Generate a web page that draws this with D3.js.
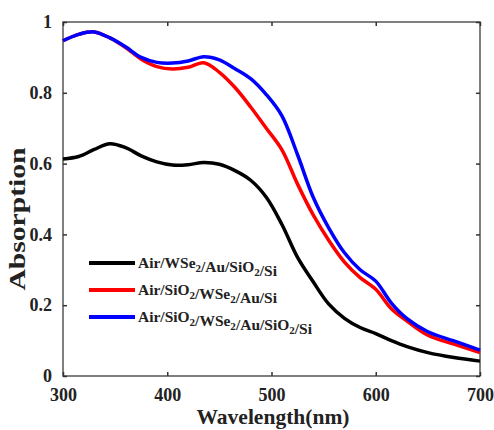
<!DOCTYPE html>
<html>
<head>
<meta charset="utf-8">
<script src="https://cdn.jsdelivr.net/npm/d3@7"></script>
<style>
  body { margin: 0; background: #fff; }
  text { font-family: "Liberation Serif", "Times New Roman", serif; font-weight: bold; fill: #222; }
</style>
</head>
<body>
<div id="chart"></div>
<script>
// wavelength grid (nm) shared by all three curves
var wavelengths = [300, 315, 330, 345, 360, 375, 390, 405, 420, 435, 450, 465, 480, 495, 510, 525, 540, 555, 570, 585, 600, 615, 630, 650, 675, 700];
var blackAbs = [0.613, 0.620, 0.640, 0.656, 0.645, 0.622, 0.605, 0.596, 0.597, 0.603, 0.598, 0.580, 0.553, 0.505, 0.428, 0.335, 0.266, 0.203, 0.163, 0.137, 0.120, 0.100, 0.083, 0.066, 0.052, 0.042];
var redAbs = [0.947, 0.965, 0.972, 0.955, 0.928, 0.895, 0.874, 0.867, 0.872, 0.885, 0.858, 0.815, 0.760, 0.700, 0.639, 0.542, 0.455, 0.383, 0.322, 0.278, 0.245, 0.190, 0.155, 0.115, 0.090, 0.066];
var blueAbs = [0.947, 0.965, 0.972, 0.955, 0.930, 0.900, 0.886, 0.884, 0.890, 0.902, 0.893, 0.868, 0.840, 0.795, 0.735, 0.625, 0.505, 0.418, 0.348, 0.300, 0.268, 0.206, 0.162, 0.125, 0.099, 0.073];
var xTicks = [300, 400, 500, 600, 700];
var yTicks = [0, 0.2, 0.4, 0.6, 0.8, 1];
var legendItems = [
  { color: "#000000", parts: [["Air/WSe", 0], ["2", 1], ["/Au/SiO", 0], ["2", 1], ["/Si", 0]], len: 139 },
  { color: "#ff0000", parts: [["Air/SiO", 0], ["2", 1], ["/WSe", 0], ["2", 1], ["/Au/Si", 0]], len: 139 },
  { color: "#0000ff", parts: [["Air/SiO", 0], ["2", 1], ["/WSe", 0], ["2", 1], ["/Au/SiO", 0], ["2", 1], ["/Si", 0]], len: 174 }
];

var width = 494, height = 430;
var margin = { left: 63, right: 14, top: 22, bottom: 54 };

var svg = d3.select("#chart").append("svg")
  .attr("width", width)
  .attr("height", height);

var x = d3.scaleLinear().domain([300, 700]).range([margin.left, width - margin.right]);
var y = d3.scaleLinear().domain([0, 1]).range([height - margin.bottom, margin.top]);

// frame
svg.append("rect")
  .attr("x", x(300)).attr("y", y(1))
  .attr("width", x(700) - x(300)).attr("height", y(0) - y(1))
  .attr("fill", "none").attr("stroke", "#555").attr("stroke-width", 1.5);

// axes with inward ticks
var fmtY = function(d) { return d === 0 || d === 1 ? String(d) : d.toFixed(1); };
function styleAxis(g, hide) {
  g.select(".domain").remove();
  g.selectAll("line").attr("stroke", "#333").attr("stroke-width", 1.5);
  g.selectAll("text").style("font-size", "18px").attr("fill", "#222");
  if (hide) g.selectAll("text").remove();
}
svg.append("g").attr("transform", "translate(0," + y(0) + ")")
  .call(d3.axisBottom(x).tickValues(xTicks).tickSize(-4).tickPadding(12))
  .call(styleAxis, false);
svg.append("g").attr("transform", "translate(0," + y(1) + ")")
  .call(d3.axisTop(x).tickValues(xTicks).tickSize(-4))
  .call(styleAxis, true);
svg.append("g").attr("transform", "translate(" + x(300) + ",0)")
  .call(d3.axisLeft(y).tickValues(yTicks).tickFormat(fmtY).tickSize(-4).tickPadding(11))
  .call(styleAxis, false);
svg.append("g").attr("transform", "translate(" + x(700) + ",0)")
  .call(d3.axisRight(y).tickValues(yTicks).tickSize(-4))
  .call(styleAxis, true);

// curves
var line = d3.line()
  .x(function(d) { return x(d[0]); })
  .y(function(d) { return y(d[1]); })
  .curve(d3.curveCatmullRom.alpha(0.5));
var series = [
  { color: "#000000", vals: blackAbs },
  { color: "#ff0000", vals: redAbs },
  { color: "#0000ff", vals: blueAbs }
];
series.forEach(function(s) {
  svg.append("path")
    .datum(wavelengths.map(function(w, i) { return [w, s.vals[i]]; }))
    .attr("d", line)
    .attr("fill", "none")
    .attr("stroke", s.color)
    .attr("stroke-width", 3.5)
    .attr("stroke-linejoin", "round");
});

// legend
var leg = svg.append("g").attr("transform", "translate(89,263)");
legendItems.forEach(function(item, i) {
  var gy = i * 27;
  leg.append("line")
    .attr("x1", 0).attr("x2", 46).attr("y1", gy).attr("y2", gy)
    .attr("stroke", item.color).attr("stroke-width", 4);
  var t = leg.append("text")
    .attr("x", 49).attr("y", gy + 5)
    .attr("textLength", item.len).attr("lengthAdjust", "spacingAndGlyphs")
    .style("font-size", "14px");
  item.parts.forEach(function(p) {
    t.append("tspan")
      .attr("dy", p[1] ? 4 : 0)
      .style("font-size", p[1] ? "10px" : "14px")
      .text(p[0]);
    if (p[1]) t.append("tspan").attr("dy", -4).text("");
  });
});

// axis titles
svg.append("text")
  .attr("x", 273).attr("y", 424)
  .attr("text-anchor", "middle")
  .attr("textLength", 153).attr("lengthAdjust", "spacingAndGlyphs")
  .style("font-size", "21px")
  .text("Wavelength(nm)");
svg.append("text")
  .attr("transform", "translate(25,219) rotate(-90)")
  .attr("text-anchor", "middle")
  .attr("textLength", 143).attr("lengthAdjust", "spacingAndGlyphs")
  .style("font-size", "23px")
  .text("Absorption");
</script>
</body>
</html>
